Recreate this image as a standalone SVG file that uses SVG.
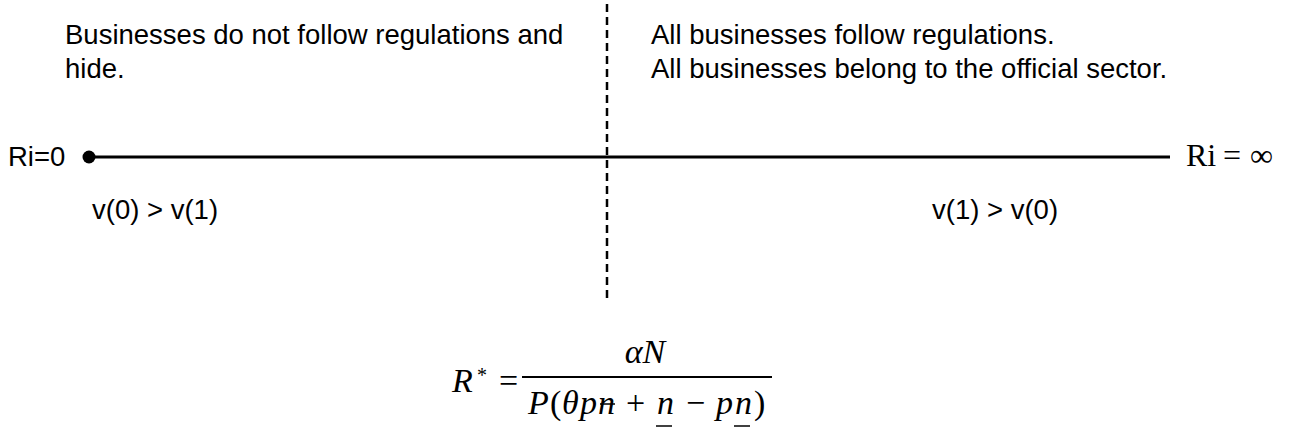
<svg xmlns="http://www.w3.org/2000/svg" width="1294" height="435" viewBox="0 0 1294 435">
<style>
.t{font-family:"Liberation Sans",Arial,sans-serif;font-size:27.5px;fill:#000}
.m{font-family:"Liberation Serif","Times New Roman",serif;font-size:34px;fill:#000}
.i{font-style:italic}
</style>
<rect width="1294" height="435" fill="#fff"/>
<g id="connectors">
<line x1="607" y1="4" x2="607" y2="300" stroke="#000" stroke-width="2.5" stroke-dasharray="8 5"/>
<line x1="89" y1="157" x2="1170" y2="157" stroke="#000" stroke-width="3"/>
<circle cx="89" cy="157" r="6.5" fill="#000"/>
</g>
<g id="left-text">
<text class="t" x="65" y="44">Businesses do not follow regulations and</text>
<text class="t" x="65" y="78">hide.</text>
</g>
<g id="right-text">
<text class="t" x="651" y="44">All businesses follow regulations.</text>
<text class="t" x="651" y="78">All businesses belong to the official sector.</text>
</g>
<g id="ri0"><text class="t" x="8" y="166">Ri=0</text></g>
<g id="riinf">
<text class="m" style="font-size:32px" y="166"><tspan x="1186">Ri</tspan><tspan x="1223">=</tspan><tspan x="1250">∞</tspan></text>
</g>
<g id="v-left"><text class="t" x="92" y="219">v(0) &gt; v(1)</text></g>
<g id="v-right"><text class="t" x="932" y="219">v(1) &gt; v(0)</text></g>
<g id="equation">
<text class="m i" x="452" y="392">R</text>
<text class="m" x="477" y="382" style="font-size:20px">*</text>
<text class="m" x="499" y="392">=</text>
<text class="m i" x="645" y="363" text-anchor="middle">αN</text>
<line x1="522" y1="377" x2="772" y2="377" stroke="#000" stroke-width="1.8"/>
<text class="m" y="414"><tspan class="i" x="528">P</tspan><tspan x="550">(</tspan><tspan class="i" x="562">θ</tspan><tspan class="i" x="580">p</tspan><tspan class="i" x="598">n</tspan><tspan x="626">+</tspan><tspan class="i" x="657">n</tspan><tspan x="686">−</tspan><tspan class="i" x="716">p</tspan><tspan class="i" x="735">n</tspan><tspan x="754">)</tspan></text>
<line x1="600" y1="404" x2="615" y2="404" stroke="#000" stroke-width="1.5"/>
<line x1="656" y1="426" x2="672" y2="426" stroke="#000" stroke-width="1.5"/>
<line x1="734" y1="426" x2="750" y2="426" stroke="#000" stroke-width="1.5"/>
</g>
</svg>
